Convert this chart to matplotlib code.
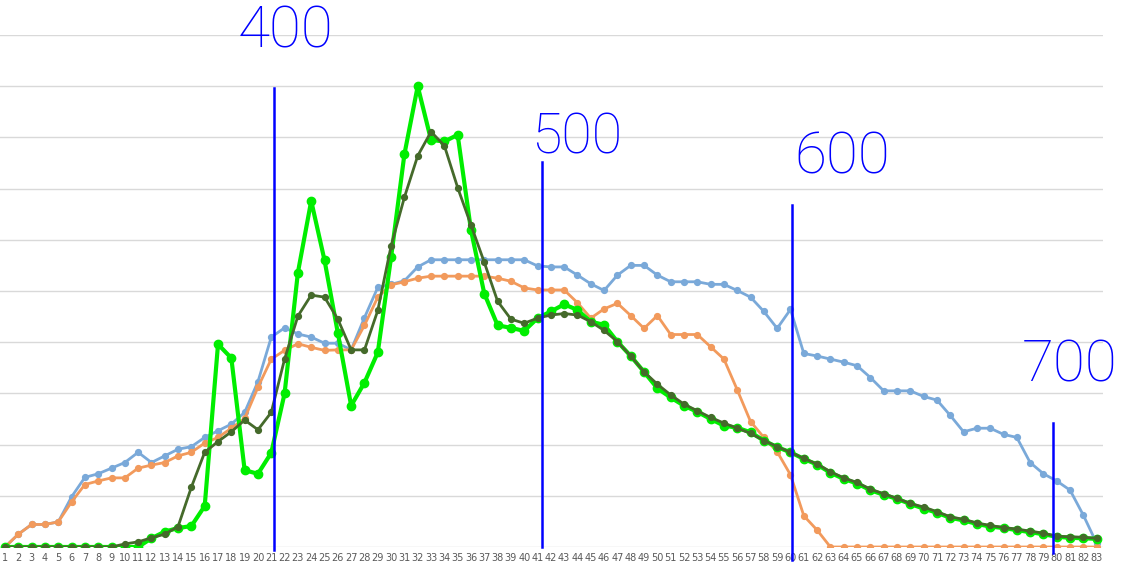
import matplotlib
matplotlib.use("Agg")
import matplotlib.pyplot as plt

categories = [str(i) for i in range(1, 84)]

light_blue = [0, 25, 44, 44, 49, 98, 136, 143, 154, 165,
              185, 165, 178, 191, 196, 214, 227, 240, 263, 323,
              410, 428, 416, 410, 398, 398, 385, 448, 507, 513,
              520, 547, 561, 561, 561, 561, 561, 561, 561, 561,
              549, 547, 547, 531, 514, 501, 531, 550, 550, 531,
              518, 518, 518, 513, 513, 501, 488, 460, 427, 464,
              378, 373, 367, 361, 354, 331, 305, 305, 305, 294,
              287, 257, 225, 232, 232, 220, 214, 165, 143, 129,
              111, 62, 7]

orange = [0, 25, 44, 44, 49, 88, 122, 129, 135, 135,
          154, 160, 165, 178, 185, 203, 214, 232, 251, 312,
          367, 384, 397, 390, 384, 385, 385, 433, 488, 512,
          518, 525, 529, 529, 529, 529, 529, 525, 519, 506,
          502, 502, 502, 477, 447, 465, 476, 452, 427, 452,
          415, 415, 415, 391, 367, 307, 245, 214, 186, 141,
          61, 33, 0, 0, 0, 0, 0, 0, 0, 0,
          0, 0, 0, 0, 0, 0, 0, 0, 0, 0,
          0, 0, 0]

bright_green = [0, 0, 0, 0, 0, 0, 0, 0, 0, 0,
                0, 17, 30, 37, 41, 80, 396, 369, 150, 143,
                184, 300, 536, 676, 560, 418, 276, 321, 380, 566,
                767, 900, 795, 792, 805, 619, 495, 433, 428, 422,
                447, 460, 474, 463, 440, 434, 401, 373, 342, 310,
                292, 276, 264, 250, 237, 233, 224, 208, 195, 185,
                172, 161, 145, 133, 124, 111, 102, 94, 84, 75,
                67, 57, 52, 45, 40, 37, 33, 29, 25, 20,
                18, 17, 16]

dark_green = [0, 0, 0, 0, 0, 0, 0, 0, 0, 6,
              10, 18, 25, 40, 117, 185, 206, 225, 248, 229,
              263, 367, 451, 492, 488, 445, 385, 385, 462, 588,
              683, 764, 811, 784, 702, 629, 556, 480, 445, 437,
              447, 453, 456, 453, 440, 423, 401, 373, 342, 318,
              297, 279, 266, 253, 242, 232, 222, 208, 196, 185,
              173, 162, 147, 135, 126, 113, 104, 95, 85, 78,
              69, 59, 54, 47, 42, 38, 35, 31, 27, 21,
              20, 19, 17]

# hand-drawn annotations: label and category position of the vertical stroke
note_labels = ["400", "500", "600", "700"]
note_x = [21.2, 41.3, 60.1, 79.7]

W, H = 1124, 566
fig = plt.figure(figsize=(W / 100, H / 100), dpi=100)
ax = fig.add_axes([-1.65 / W, 19 / H, 1105 / W, 512 / H])

x = list(range(1, 84))
ax.plot(x, light_blue, color="#7aa9d9", lw=2, marker="o", ms=4.2, zorder=3)
ax.plot(x, orange, color="#f29a5c", lw=2, marker="o", ms=4.2, zorder=4)
ax.plot(x, bright_green, color="#00ee00", lw=3, marker="o", ms=6, zorder=5)
ax.plot(x, dark_green, color="#456a2b", lw=2, marker="o", ms=4.2, zorder=6)

ax.set_xlim(0.5, 83.5)
ax.set_ylim(0, 1000)
ax.set_yticks(range(0, 1001, 100))
ax.set_yticklabels([])
ax.set_xticks(x)
ax.set_xticklabels(categories, fontsize=7, color="#595959")
ax.tick_params(axis="both", length=0, pad=4)
ax.grid(axis="y", color="#d9d9d9", lw=1)
ax.set_axisbelow(True)
for s in ax.spines.values():
    s.set_visible(False)

# vertical hand strokes
tops = [0.896, 0.752, 0.668, 0.242]
bottoms = [-0.005, 0.0, -0.025, -0.012]
for xv, t, b in zip(note_x, tops, bottoms):
    ax.plot([xv, xv], [b * 1000, t * 1000], color="#0000ff", lw=1.8,
            zorder=7, clip_on=False)

# hand-written numbers
pos = [(285, 32), (577, 138), (842, 158), (1070, 366)]
sizes = [42, 40, 42, 42]
for lab, (px, py), fs in zip(note_labels, pos, sizes):
    fig.text(px / W, 1 - py / H, lab, color="#0000ff", fontsize=fs,
             family="Roboto", weight="light", ha="center", va="center")

fig.savefig("out.png", dpi=100)
